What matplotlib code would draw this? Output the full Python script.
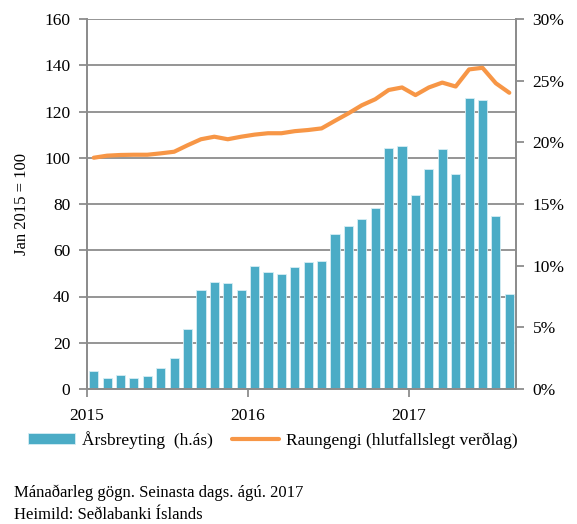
import matplotlib
matplotlib.use('Agg')
import matplotlib.pyplot as plt
import numpy as np

# monthly data, Jan 2015 - Aug 2017
years = ['2015', '2016', '2017']
arsbreyting = [1.46, 0.92, 1.16, 0.92, 1.05, 1.68, 2.49, 4.84, 8.0, 8.65, 8.6, 8.05,
               9.95, 9.49, 9.33, 9.92, 10.3, 10.4, 12.6, 13.2, 13.76, 14.68, 19.55, 19.73,
               15.73, 17.8, 19.44, 17.44, 23.6, 23.4, 14.03, 7.7]
raungengi = [100.0, 100.9, 101.2, 101.3, 101.3, 101.9, 102.6, 105.4, 108.0, 109.1, 108.0, 109.1,
             110.0, 110.6, 110.6, 111.5, 112.0, 112.7, 116.0, 119.2, 122.7, 125.3, 129.3, 130.4,
             127.1, 130.4, 132.5, 130.8, 138.2, 138.9, 132.2, 128.1]
left_ticks = [0, 20, 40, 60, 80, 100, 120, 140, 160]
right_ticks = [0, 5, 10, 15, 20, 25, 30]

plt.rcParams['font.family'] = ['Liberation Serif', 'DejaVu Serif']
plt.rcParams['font.size'] = 12.5

BLUE = '#4BACC6'
ORANGE = '#F79646'
GRID = '#8c8c8c'

n = len(arsbreyting)
x = np.arange(n) + 0.5

fig = plt.figure(figsize=(5.77, 5.24), dpi=100)
axb = fig.add_axes([87/577, 1-389/524, (516-87)/577, (389-19)/524])
axl = axb.twinx()

# bars on right axis (h.ás)
axb.set_ylim(0, 30)
axb.set_xlim(0, n)
for v in left_ticks:
    axb.axhline(v * 30 / 160, color=GRID, lw=1.3, zorder=0)
axb.bar(x, arsbreyting, width=0.68, color=BLUE, edgecolor='#d6eef4', lw=0.6, zorder=2,
        label='Årsbreyting  (h.ás)')
axb.yaxis.tick_right()
axb.set_yticks(right_ticks)
axb.set_yticklabels([f'{t}%' for t in right_ticks])
axb.set_xticks([0, 12, 24])
axb.set_xticklabels(years)
axb.tick_params(axis='x', length=6, color=GRID, width=1.3, pad=8)
axb.tick_params(axis='y', length=6, color=GRID, width=1.3, pad=6)

# line on left axis
axl.plot(x, raungengi, color=ORANGE, lw=3.0, solid_capstyle='round', zorder=3,
         label='Raungengi (hlutfallslegt verðlag)')
axl.set_ylim(0, 160)
axl.yaxis.tick_left()
axl.yaxis.set_label_position('left')
axl.set_yticks(left_ticks)
axl.tick_params(axis='y', length=6, color=GRID, width=1.3, pad=6)
axl.set_ylabel('Jan 2015 = 100', labelpad=10, fontsize=12)

for a in (axb, axl):
    a.spines['top'].set_visible(False)
    for s in ('left', 'right', 'bottom'):
        a.spines[s].set_color(GRID)
        a.spines[s].set_linewidth(1.3)

h1, l1 = axb.get_legend_handles_labels()
h2, l2 = axl.get_legend_handles_labels()
fig.legend(h1 + h2, l1 + l2, loc='center left', bbox_to_anchor=(28/577, 1-440/524), ncol=2,
           frameon=False, handlelength=2.7, handleheight=0.6, handletextpad=0.4,
           columnspacing=1.1, borderaxespad=0, borderpad=0, fontsize=12.5)

fig.text(14/577, 1-493/524, 'Mánaðarleg gögn. Seinasta dags. ágú. 2017', va='center', fontsize=12)
fig.text(14/577, 1-515/524, 'Heimild: Seðlabanki Íslands', va='center', fontsize=12)

fig.savefig('out.png', dpi=100)
